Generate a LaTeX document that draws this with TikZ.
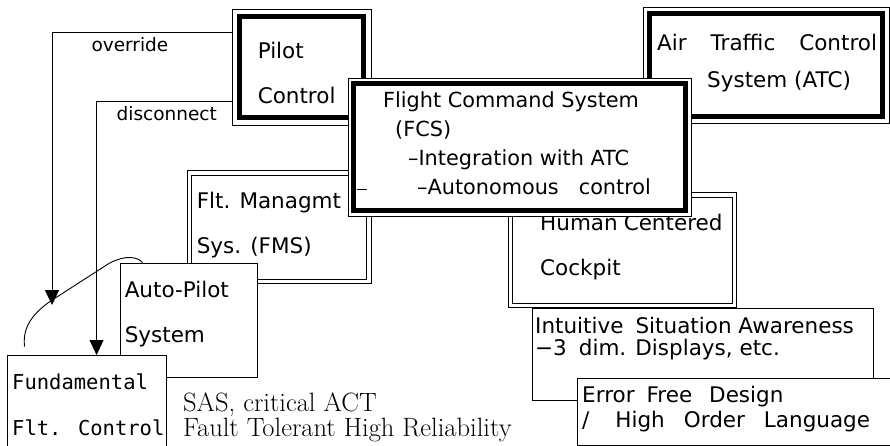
\documentclass[tikz,border=0pt]{standalone}
\usepackage{fontspec}
\usepackage{tikz}
\usetikzlibrary{arrows.meta,calc,positioning}
\newfontfamily\gothic{DejaVu Sans}
\newfontfamily\gothicmono{DejaVu Sans Mono}
\newcommand{\gap}[1]{\hspace{#1pt}}

\begin{document}
\begin{tikzpicture}[x=1pt,y=-1pt,% y grows downwards, as in the scan
    every node/.style={inner sep=0pt, align=left},
    framebox/.style={rectangle, draw, line width=0.9pt, fill=white},  % single thin frame
    twinbox/.style={rectangle, draw, line width=0.8pt, double, double distance=3.6pt, fill=white},
    heavy/.style={line width=4.8pt},                                  % thick inner frame
    boxtext/.style={anchor=west, font=\gothic\fontsize{21.5}{45}\selectfont},
    wirelabel/.style={font=\gothic\fontsize{18.5}{20}\selectfont},
    flow/.style={line width=0.9pt, -{Triangle[width=14pt,length=15pt]}},
    link/.style={line width=0.9pt}
    ]
\useasboundingbox (0,0) rectangle (890,446);

% pilot and ATC
\node[framebox, minimum width=139pt, minimum height=116pt] (pilot) at (301.5,67) {};
\draw[heavy] ($(pilot.north west)+(8,8)$) rectangle ($(pilot.south east)+(-8,-8)$);
\node[boxtext] (pilot-txt) at ($(pilot.west)+(26,5.5)$) {Pilot\\Control};

\node[framebox, minimum width=246pt, minimum height=116pt] (atc) at (766,65) {};
\draw[heavy] ($(atc.north west)+(7,7)$) rectangle ($(atc.south east)+(-7,-7)$);
\node[boxtext, font=\gothic\fontsize{21.5}{37}\selectfont] (atc-txt) at (657,63.5)
    {Air\gap{24}Traffic\gap{24}Control\\\hspace*{50pt}System (ATC)};

% override / disconnect
\coordinate (ovr) at ($(pilot.north west)+(0,24)$);
\coordinate (ovr-end) at (52,305);
\coordinate (dsc) at ($(pilot.north west)+(0,93)$);
\draw[flow] (ovr) -| node[wirelabel, below=4pt, pos=0.283] (ovr-lbl) {override} (ovr-end);

% FMS, human centered cockpit
\node[twinbox, minimum width=179.5pt, minimum height=108.5pt] (fms) at (279.25,227.25) {};
\node[boxtext] (fms-txt) at ($(fms.west)+(7.5,-2)$) {Flt. Managmt\\Sys. (FMS)};

\node[twinbox, minimum width=224pt, minimum height=110.5pt] (human) at (622.5,250.25) {};
\node[boxtext] (human-txt) at (540,247.5) {Human\gap{6}Centered\\Cockpit};

% flight command system
\node[framebox, minimum width=343pt, minimum height=138pt] (fcs) at (519.5,147) {};
\draw[heavy] ($(fcs.north west)+(6,6)$) rectangle ($(fcs.south east)+(-6,-6)$);
\draw[link] ($(fcs.west)+(9,42)$) -- ++(10,0);
\node[boxtext, font=\gothic\fontsize{20.8}{29}\selectfont] (fcs-txt) at (383,143.5)
    {Flight Command System\\\hspace*{12pt}(FCS)\\\hspace*{25pt}–Integration with ATC\\
     \hspace*{34pt}–Autonomous\gap{20}control};

% autopilot and fundamental control
\node[framebox, minimum width=137pt, minimum height=114pt] (auto) at (188.5,320) {};
\node[boxtext] (auto-txt) at ($(auto.west)+(5,-5.5)$) {Auto-Pilot\\System};

\draw[flow] (dsc) -| node[wirelabel, below=4pt, pos=0.24] (dsc-lbl) {disconnect} ($(pilot.north west |- 0,355)+(-135,0)$);

\node[framebox, minimum width=159pt, minimum height=100pt] (fund) at (86.5,405) {};
\node[boxtext, font=\gothicmono\fontsize{20.5}{46}\selectfont] (fund-txt) at (12,405)
    {Fundamental\\Flt. Control};

\draw[link] ($(fund.north west)+(18,-8)$) .. controls (22,325) and (35,310) .. (60,295)
    -- (105,266) .. controls (118,257) and (135,254) .. ($(auto.north west)+(23,0)$);

\node[anchor=west, font=\fontsize{26.5}{25}\selectfont] (sas-txt) at (183,417.5)
    {SAS, critical ACT\\Fault Tolerant High Reliability};

% cockpit details
\node[framebox, minimum width=341pt, minimum height=92pt] (intu) at (702.5,354) {};
\node[boxtext, font=\gothic\fontsize{21.5}{22}\selectfont] (intu-txt) at (535,339)
    {Intuitive\gap{12}Situation Awareness\\{\char"2212}3\gap{12}dim. Displays, etc.};

\node[framebox, minimum width=316pt, minimum height=67pt] (err) at (735,411.5) {};
\node[boxtext, font=\gothic\fontsize{21.5}{25}\selectfont] (err-txt) at (582,409.5)
    {Error\gap{12}Free\gap{17}Design\\/\gap{26}High\gap{19}Order\gap{19}Language};
\end{tikzpicture}
\end{document}
